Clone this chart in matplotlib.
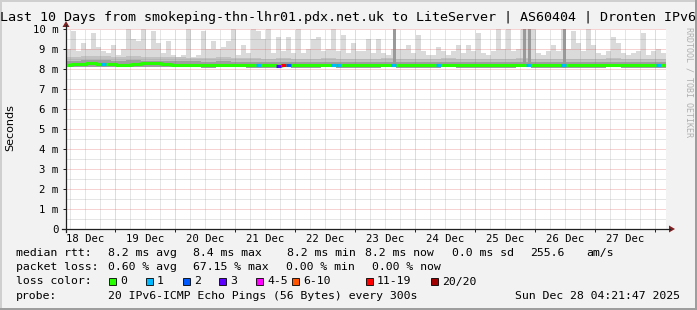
import numpy as np
import matplotlib.pyplot as plt
from matplotlib.patches import Rectangle, Polygon
from matplotlib.lines import Line2D

# --- data ----------------------------------------------------------------
# time axis: days since 18 Dec 00:00, graph covers 10 days ending 28 Dec 04:21:47
t_start = (4 + 21 / 60 + 47 / 3600) / 24
day_labels = ["18 Dec", "19 Dec", "20 Dec", "21 Dec", "22 Dec",
              "23 Dec", "24 Dec", "25 Dec", "26 Dec", "27 Dec"]

# smoke top (max of the 20 pings), one value per 2 h column, ms
smoke_max = [9.0, 9.9, 8.9, 9.3, 9.0, 9.8, 9.1, 8.9, 8.8, 9.2, 8.7, 9.0, 10.0, 9.5, 9.4,
             10.0, 9.0, 9.9, 9.3, 8.8, 9.4, 8.7, 8.6, 8.7, 10.0, 8.6, 8.7, 9.9, 9.0,
             9.4, 9.0, 9.1, 9.4, 10.0, 8.7, 9.2, 8.8, 10.0, 9.9, 9.5, 10.0, 8.8, 9.6, 8.9,
             9.6, 8.8, 10.0, 8.8, 9.0, 9.5, 9.6, 8.9, 9.0, 10.0, 8.9, 9.7, 8.8, 9.3, 8.9,
             8.9, 9.5, 8.8, 9.5, 8.8, 8.7, 9.0, 9.0, 9.0, 9.2, 8.8, 9.7, 8.9, 8.7, 8.7,
             9.1, 8.9, 8.7, 8.9, 9.2, 8.8, 9.2, 8.9, 9.8, 8.8, 8.7, 8.9, 10.0, 9.0, 10.0,
             8.9, 9.0, 10.0, 10.0, 10.0, 8.8, 8.7, 8.9, 9.2, 8.9, 10.0, 9.0, 9.9, 9.3, 8.9,
             10.0, 9.2, 8.8, 8.7, 8.9, 9.6, 9.3, 8.8, 8.7, 8.8, 8.9, 9.8, 8.7, 8.9, 9.0, 8.8]

# columns where most pings were slow (dark bars up to the top)
heavy_cols = [65, 91, 92, 99]

# median rtt per 2 h column, ms
median = [8.22, 8.24, 8.26, 8.27, 8.28, 8.28, 8.27, 8.26, 8.27, 8.25, 8.22, 8.20, 8.21, 8.24, 8.27,
          8.28, 8.28, 8.29, 8.29, 8.27, 8.23, 8.22, 8.21, 8.21, 8.22, 8.21, 8.21, 8.22, 8.21, 8.21,
          8.22, 8.22, 8.21, 8.21, 8.22, 8.21, 8.21, 8.21, 8.20, 8.21, 8.21, 8.20, 8.17, 8.18, 8.19,
          8.21, 8.21, 8.22, 8.21, 8.21, 8.20, 8.21, 8.21, 8.21, 8.21, 8.21, 8.21, 8.22, 8.21, 8.21,
          8.21, 8.21, 8.22, 8.21, 8.21, 8.21, 8.20, 8.21, 8.21, 8.21, 8.21, 8.21, 8.21, 8.20, 8.20,
          8.21, 8.21, 8.21, 8.22, 8.21, 8.21, 8.21, 8.20, 8.20, 8.21, 8.21, 8.21, 8.21, 8.21, 8.21,
          8.21, 8.21, 8.21, 8.21, 8.21, 8.21, 8.20, 8.20, 8.21, 8.21, 8.21, 8.21, 8.21, 8.21, 8.21,
          8.21, 8.21, 8.20, 8.20, 8.21, 8.21, 8.21, 8.21, 8.21, 8.21, 8.21, 8.21, 8.21, 8.21, 8.21]

# lost pings (of 20) in the columns that were not clean
loss_cols = [7, 38, 42, 43, 44, 53, 54, 65, 74, 92, 99, 118]
loss_vals = [1, 1, 3, 13, 2, 1, 1, 1, 1, 1, 1, 1]

# inner smoke bands per 6 h, ms
smoke_min = [8.08, 8.09, 8.09, 8.08, 8.09, 8.08, 8.08, 8.08, 8.08, 8.07, 8.08, 8.08, 8.07, 8.07,
             8.08, 8.07, 8.07, 8.08, 8.07, 8.07, 8.07, 8.08, 8.07, 8.07, 8.07, 8.08, 8.07, 8.07,
             8.07, 8.07, 8.08, 8.07, 8.07, 8.07, 8.07, 8.07, 8.08, 8.07, 8.07, 8.07]
smoke_q75 = [8.42, 8.44, 8.44, 8.42, 8.43, 8.41, 8.38, 8.39, 8.38, 8.37, 8.38, 8.36, 8.36, 8.35,
             8.36, 8.35, 8.35, 8.36, 8.35, 8.35, 8.35, 8.36, 8.35, 8.35, 8.35, 8.36, 8.35, 8.35,
             8.35, 8.35, 8.36, 8.35, 8.35, 8.35, 8.35, 8.35, 8.36, 8.35, 8.35, 8.35]
smoke_q90 = [8.62, 8.66, 8.66, 8.62, 8.66, 8.62, 8.58, 8.60, 8.56, 8.56, 8.60, 8.56, 8.55, 8.52,
             8.55, 8.52, 8.52, 8.55, 8.52, 8.52, 8.52, 8.55, 8.52, 8.52, 8.52, 8.55, 8.52, 8.52,
             8.52, 8.52, 8.55, 8.52, 8.52, 8.52, 8.52, 8.52, 8.55, 8.52, 8.52, 8.52]

# loss colour legend
loss_labels = ["0", "1", "2", "3", "4-5", "6-10", "11-19", "20/20"]
loss_limits = [0, 1, 2, 3, 5, 10, 19, 20]
loss_colors = ["#26ff00", "#00b8ff", "#0059ff", "#5e00ff", "#ff00ff", "#ff5500", "#ff0000", "#a00000"]

# --- figure ----------------------------------------------------------------
W, H = 697, 310
MONO = "DejaVu Sans Mono"


def fx(x):
    return x / W


def fy(y):
    return 1 - y / H


def loss_color(n):
    for lim, c in zip(loss_limits, loss_colors):
        if n <= lim:
            return c
    return loss_colors[-1]


fig = plt.figure(figsize=(W / 100, H / 100), dpi=100, facecolor="#f2f2f2")

# 3d frame like rrdtool
fig.add_artist(Rectangle((0, 0), fx(2), 1, transform=fig.transFigure, color="#cfcfcf", lw=0))
fig.add_artist(Rectangle((0, fy(2)), 1, 2 / H, transform=fig.transFigure, color="#cfcfcf", lw=0))
fig.add_artist(Rectangle((fx(695), 0), 2 / W, 1, transform=fig.transFigure, color="#9e9e9e", lw=0))
fig.add_artist(Rectangle((0, 0), 1, 2 / H, transform=fig.transFigure, color="#9e9e9e", lw=0))

ax = fig.add_axes([fx(66), fy(229), 600 / W, 200 / H])
ax.set_facecolor("white")
ax.set_xlim(t_start, t_start + 10)
ax.set_ylim(0, 10)
for s in ax.spines.values():
    s.set_visible(False)

step = 1 / 12
edges = t_start + np.arange(len(smoke_max) + 1) * step
lo2 = np.repeat(smoke_min, 3)

# smoke
ax.bar(edges[:-1], np.array(smoke_max) - lo2, bottom=lo2, width=step, align="edge",
       color="#dadada", lw=0, zorder=1)
edges6 = t_start + np.arange(len(smoke_q90)) * 0.25
ax.bar(edges6, np.array(smoke_q90) - np.array(smoke_min), bottom=smoke_min, width=0.25,
       align="edge", color="#c2c2c2", lw=0, zorder=2)
ax.bar(edges6, np.array(smoke_q75) - np.array(smoke_min), bottom=smoke_min, width=0.25,
       align="edge", color="#9f9f9f", lw=0, zorder=2)
for c in heavy_cols:
    ax.bar(edges[c] + 0.4 * step, 10 - lo2[c], bottom=lo2[c], width=0.6 * step, align="edge",
           color="#9a9a9a", lw=0, zorder=3)

# grid (rrdtool draws it over the smoke)
dot = (0, (1, 1))
minor_c = (0.56, 0.56, 0.56, 0.45)
major_c = (0.87, 0.31, 0.31, 0.5)
for q in np.arange(0.25, 11, 0.25):
    if t_start < q < t_start + 10:
        is_major = abs(q - round(q)) < 1e-9
        ax.axvline(q, color=major_c if is_major else minor_c, lw=0.72, ls=dot, zorder=4)
for v in np.arange(0.5, 10.01, 0.5):
    is_major = abs(v - round(v)) < 1e-9
    ax.axhline(v, color=major_c if is_major else minor_c, lw=0.72, ls=dot, zorder=4)

# median line coloured by loss
med = np.r_[median, median[-1]]
ax.plot(edges, med, drawstyle="steps-post", color=loss_colors[0], lw=2.2,
        solid_capstyle="butt", zorder=5)
for c, n in zip(loss_cols, loss_vals):
    ax.plot([edges[c], edges[c + 1]], [median[c], median[c]], color=loss_color(n), lw=2.2,
            solid_capstyle="butt", zorder=6)

# ticks
ax.set_yticks(range(11))
ax.set_yticklabels(["0"] + [f"{i} m" for i in range(1, 11)], fontfamily=MONO, fontsize=7.7)
ax.tick_params(axis="y", length=2.5, width=0.7, pad=3, color="#1f1f1f")
ax.set_xticks(np.arange(10) + 0.5)
ax.set_xticklabels(day_labels, fontfamily=MONO, fontsize=7.7)
ax.set_xticks(np.arange(1, 11), minor=True)
ax.tick_params(axis="x", which="major", length=0, pad=3.8)
ax.tick_params(axis="x", which="minor", length=2.5, width=0.7, color="#1f1f1f")

# axes with arrows
fig.add_artist(Line2D([fx(62), fx(670)], [fy(229), fy(229)], transform=fig.transFigure,
                      color="#1f1f1f", lw=0.9))
fig.add_artist(Line2D([fx(66), fx(66)], [fy(232), fy(25)], transform=fig.transFigure,
                      color="#1f1f1f", lw=0.9))
fig.add_artist(Polygon([(fx(669), fy(225.5)), (fx(669), fy(232.5)), (fx(675), fy(229))],
                       closed=True, transform=fig.transFigure, color="#801f1f", lw=0))
fig.add_artist(Polygon([(fx(62.5), fy(27)), (fx(69.5), fy(27)), (fx(66), fy(21))],
                       closed=True, transform=fig.transFigure, color="#801f1f", lw=0))

# texts
fig.text(fx(348.5), fy(18), "Last 10 Days from smokeping-thn-lhr01.pdx.net.uk to LiteServer | "
         "AS60404 | Dronten IPv6", ha="center", va="center", fontfamily=MONO, fontsize=9.6)
fig.text(fx(10), fy(128), "Seconds", rotation=90, ha="center", va="center",
         fontfamily="DejaVu Sans", fontsize=8)
fig.text(fx(688.5), fy(27), "RRDTOOL / TOBI OETIKER", rotation=270, ha="center", va="top",
         fontfamily=MONO, fontsize=6, color="#b0b0b0")

legend_fs = 8.25
row1 = ["median rtt:", "8.2 ms avg", "8.4 ms max", "8.2 ms min", "8.2 ms now", "0.0 ms sd",
        "255.6", "am/s"]
row1_x = [16, 108, 193, 287, 365, 452, 530, 586]
row2 = ["packet loss:", "0.60 % avg", "67.15 % max", "0.00 % min", "0.00 % now"]
row2_x = [16, 108, 193, 286, 372]
for txt, x in zip(row1, row1_x):
    fig.text(fx(x), fy(253), txt, ha="left", va="center", fontfamily=MONO, fontsize=legend_fs)
for txt, x in zip(row2, row2_x):
    fig.text(fx(x), fy(267.5), txt, ha="left", va="center", fontfamily=MONO, fontsize=legend_fs)

fig.text(fx(16), fy(281.5), "loss color:", ha="left", va="center", fontfamily=MONO,
         fontsize=legend_fs)
box_x = [109, 146, 183, 219, 256, 292, 366, 431]
for lab, col, x in zip(loss_labels, loss_colors, box_x):
    fig.add_artist(Rectangle((fx(x), fy(285)), 7 / W, 7 / H, transform=fig.transFigure,
                             facecolor=col, edgecolor="black", lw=0.6))
    fig.text(fx(x + 11), fy(281.5), lab, ha="left", va="center", fontfamily=MONO,
             fontsize=legend_fs)

fig.text(fx(16), fy(296), "probe:", ha="left", va="center", fontfamily=MONO, fontsize=legend_fs)
fig.text(fx(108), fy(296), "20 IPv6-ICMP Echo Pings (56 Bytes) every 300s", ha="left",
         va="center", fontfamily=MONO, fontsize=legend_fs)
fig.text(fx(680), fy(296), "Sun Dec 28 04:21:47 2025", ha="right", va="center",
         fontfamily=MONO, fontsize=legend_fs)

fig.savefig("out.png", dpi=100, facecolor=fig.get_facecolor())
